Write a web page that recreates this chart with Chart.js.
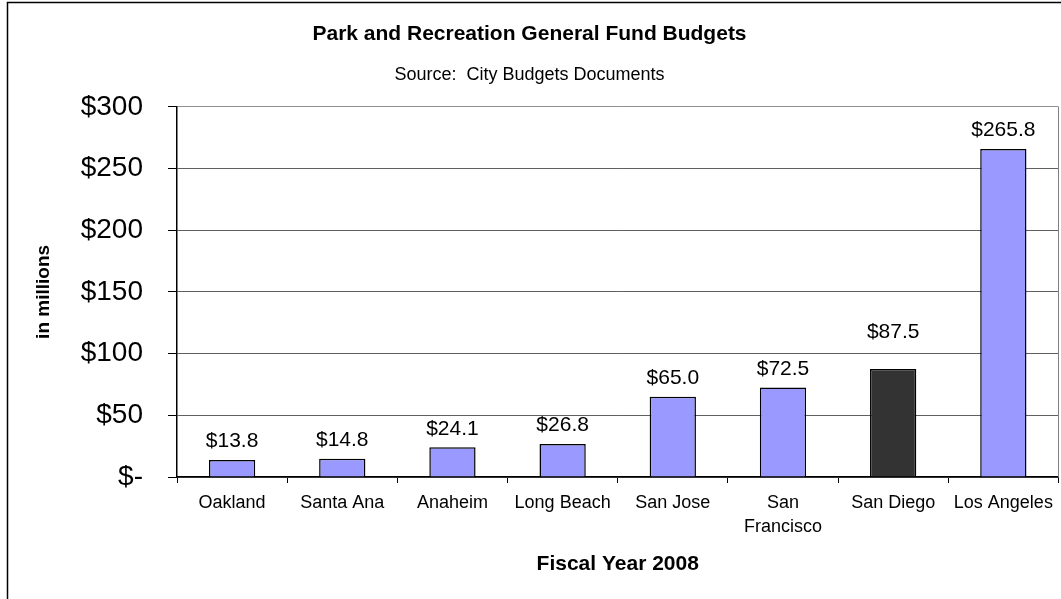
<!DOCTYPE html>
<html>
<head>
<meta charset="utf-8">
<script src="https://cdn.jsdelivr.net/npm/chart.js@4/dist/chart.umd.min.js"></script>
<style>
  html, body { margin: 0; padding: 0; background: #fff; overflow: hidden; }
  canvas { display: block; }
</style>
</head>
<body>
<canvas id="chart" width="1061" height="599"></canvas>
<script>
// data
const cities = ["Oakland", "Santa Ana", "Anaheim", "Long Beach", "San Jose", ["San", "Francisco"], "San Diego", "Los Angeles"];
const budgets = [13.8, 14.8, 24.1, 26.8, 65.0, 72.5, 87.5, 265.8];
const yTicks = [0, 50, 100, 150, 200, 250, 300];

const FONT = "'Liberation Sans', Arial, sans-serif";
const barColors = budgets.map((v, i) => i === 6 ? "#333333" : "#9999ff");
// the San Diego label sits higher in the original
const labelGap = i => i === 6 ? 26 : 8;

// value labels above each bar + chart frame
const extras = {
    id: "extras",
    afterDatasetsDraw(chart) {
        const ctx = chart.ctx;
        const meta = chart.getDatasetMeta(0);
        ctx.save();
        ctx.font = "21px " + FONT;
        ctx.fillStyle = "#000";
        ctx.textAlign = "center";
        ctx.textBaseline = "bottom";
        meta.data.forEach((bar, i) => {
            ctx.fillText("$" + budgets[i].toFixed(1), bar.x, bar.y - labelGap(i));
        });
        ctx.restore();
    },
    afterDraw(chart) {
        const ctx = chart.ctx;
        const a = chart.chartArea;
        ctx.save();
        // right edge of plot area
        ctx.strokeStyle = "#808080";
        ctx.lineWidth = 1;
        ctx.beginPath();
        ctx.moveTo(Math.round(a.right) + 0.5, a.top);
        ctx.lineTo(Math.round(a.right) + 0.5, a.bottom);
        ctx.stroke();
        // outer chart border
        ctx.strokeStyle = "#000";
        ctx.lineWidth = 1.5;
        ctx.strokeRect(7.5, 2.5, 1200, 800);
        ctx.restore();
    }
};

new Chart(document.getElementById("chart"), {
    type: "bar",
    data: {
        labels: cities,
        datasets: [{
            data: budgets,
            backgroundColor: barColors,
            borderColor: "#000",
            borderWidth: 1.5,
            borderSkipped: "bottom",
            barPercentage: 0.42,
            categoryPercentage: 1
        }]
    },
    options: {
        responsive: false,
        animation: false,
        devicePixelRatio: 1,
        layout: { padding: { left: 0, right: 2, top: 0, bottom: 0 } },
        plugins: {
            legend: { display: false },
            tooltip: { enabled: false },
            title: {
                display: true,
                text: "Park and Recreation General Fund Budgets",
                color: "#000",
                font: { family: FONT, size: 21, weight: "bold" },
                padding: { top: 22, bottom: 10 }
            },
            subtitle: {
                display: true,
                text: "Source:  City Budgets Documents",
                color: "#000",
                font: { family: FONT, size: 18 },
                padding: { top: 7, bottom: 21 }
            }
        },
        scales: {
            x: {
                afterFit(scale) { scale.height = 122; },
                grid: {
                    offset: true,
                    drawOnChartArea: false,
                    drawTicks: true,
                    tickLength: 6,
                    color: "#000"
                },
                border: { color: "#000", width: 1.5 },
                ticks: {
                    color: "#000",
                    padding: 8,
                    maxRotation: 0,
                    autoSkip: false,
                    font: { family: FONT, size: 18, lineHeight: 1.33 }
                },
                title: {
                    display: true,
                    text: "Fiscal Year 2008",
                    color: "#000",
                    font: { family: FONT, size: 21, weight: "bold" },
                    padding: { top: 0, bottom: 22 }
                }
            },
            y: {
                min: 0,
                max: 300,
                afterFit(scale) { scale.width = 177; },
                afterBuildTicks(scale) { scale.ticks = yTicks.map(v => ({ value: v })); },
                grid: {
                    color: ctx => ctx.tick && ctx.tick.value === 300 ? "#909090" : "#606060",
                    tickColor: "#000",
                    tickLength: 9
                },
                border: { color: "#000", width: 1.5 },
                ticks: {
                    color: "#000",
                    padding: 25,
                    font: { family: FONT, size: 28 },
                    callback: v => v === 0 ? "$-" : "$" + v
                },
                title: {
                    display: true,
                    text: "in millions",
                    color: "#000",
                    font: { family: FONT, size: 19, weight: "bold" },
                    padding: { top: 32, bottom: 0 }
                }
            }
        }
    },
    plugins: [extras]
});
</script>
</body>
</html>
